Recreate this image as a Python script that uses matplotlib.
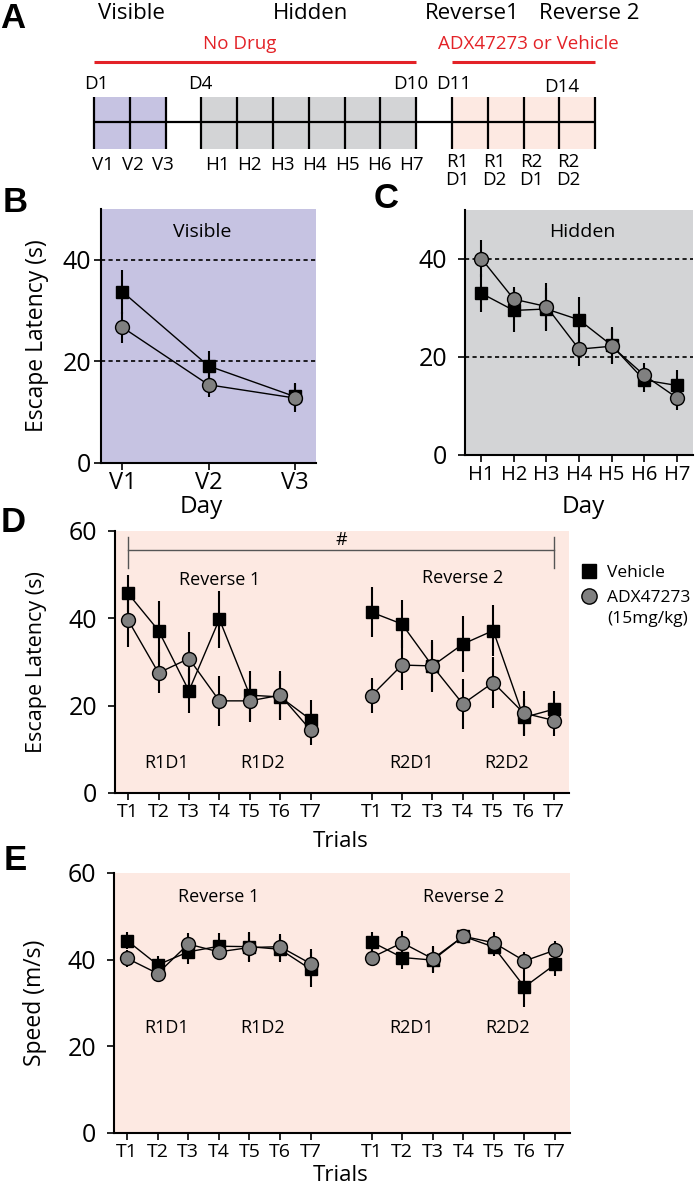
import numpy as np
import matplotlib
matplotlib.use("Agg")
import matplotlib.pyplot as plt
from matplotlib.lines import Line2D

plt.rcParams['font.family'] = ['Open Sans', 'DejaVu Sans']

# ---------------- data ----------------
# Panel A (timeline)
phase_titles = ["Visible", "Hidden", "Reverse1", "Reverse 2"]
drug_labels = ["No Drug", "ADX47273 or Vehicle"]
day_marks = ["D1", "D4", "D10", "D11", "D14"]
day_mark_days = [1, 4, 10, 11, 14]
visible_days = ["V1", "V2", "V3"]
hidden_days = ["H1", "H2", "H3", "H4", "H5", "H6", "H7"]
reverse_top = ["R1", "R1", "R2", "R2"]
reverse_bottom = ["D1", "D2", "D1", "D2"]
visible_span = (1, 3)
hidden_span = (4, 10)
reverse_span = (11, 15)

# Panel B (visible platform)
b_days = ["V1", "V2", "V3"]
b_vehicle = [33.7, 19.1, 13.1]
b_vehicle_err = [4.3, 3.0, 2.6]
b_adx = [26.7, 15.4, 12.8]
b_adx_err = [3.0, 2.4, 2.8]

# Panel C (hidden platform)
c_days = ["H1", "H2", "H3", "H4", "H5", "H6", "H7"]
c_vehicle = [33.0, 29.5, 29.8, 27.6, 22.4, 15.3, 14.2]
c_vehicle_err = [3.9, 4.4, 4.3, 4.6, 3.7, 2.4, 3.1]
c_adx = [40.1, 31.8, 30.3, 21.6, 22.2, 16.3, 11.7]
c_adx_err = [3.7, 2.5, 4.9, 3.4, 3.7, 2.5, 2.5]

# Panel D (escape latency, reversal)
trials = ["T1", "T2", "T3", "T4", "T5", "T6", "T7"]
d_r1_vehicle = [45.7, 37.2, 23.4, 39.8, 22.4, 22.0, 16.8]
d_r1_vehicle_err = [4.2, 6.8, 5.1, 6.5, 5.6, 5.2, 4.5]
d_r1_adx = [39.6, 27.5, 30.8, 21.1, 21.1, 22.4, 14.4]
d_r1_adx_err = [6.1, 4.7, 6.1, 5.7, 4.8, 5.6, 3.5]
d_r2_vehicle = [41.4, 38.7, 29.1, 34.1, 37.2, 17.3, 19.2]
d_r2_vehicle_err = [5.7, 5.5, 5.5, 6.4, 5.9, 4.3, 4.2]
d_r2_adx = [22.3, 29.3, 29.1, 20.4, 25.3, 18.3, 16.6]
d_r2_adx_err = [4.0, 5.7, 5.9, 5.8, 5.9, 5.1, 3.6]

# Panel E (swim speed, reversal)
e_r1_vehicle = [44.4, 38.8, 41.8, 43.1, 43.0, 42.4, 37.8]
e_r1_vehicle_err = [2.0, 2.0, 2.8, 3.1, 3.3, 3.0, 4.0]
e_r1_adx = [40.3, 36.8, 43.6, 41.8, 42.8, 43.0, 39.1]
e_r1_adx_err = [2.0, 2.0, 2.6, 1.9, 3.3, 3.0, 3.3]
e_r2_vehicle = [44.1, 40.5, 39.9, 45.4, 42.9, 33.7, 38.9]
e_r2_vehicle_err = [2.3, 2.6, 3.0, 1.5, 2.0, 4.7, 2.7]
e_r2_adx = [40.5, 43.9, 40.2, 45.4, 43.9, 39.7, 42.2]
e_r2_adx_err = [2.0, 2.7, 3.0, 1.5, 2.4, 2.1, 2.0]

session_labels = ["R1D1", "R1D2", "R2D1", "R2D2"]
series_names = ["Vehicle", "ADX47273"]
dose_note = "(15mg/kg)"

# ---------------- style ----------------
W, H = 700, 1186
PURPLE = "#c6c3e2"
GRAY = "#d3d4d6"
PINK = "#fde9e2"
RED = "#e32227"
CIRCLE = "#808080"

fig = plt.figure(figsize=(W / 100, H / 100), dpi=100)


def rect(l, t, r, b):
    return [l / W, 1 - b / H, (r - l) / W, (b - t) / H]


def fx(px):
    return px / W


def fy(py):
    return 1 - py / H


# ---------------- Panel A ----------------
PXD = 35.8  # pixels per day
axA = fig.add_axes([0, 1 - 195 / H, 1, 195 / H])
axA.set_xlim(1 - 94 / PXD, 1 + (W - 94) / PXD)
axA.set_ylim(195, 0)
axA.axis("off")

for (s, e), col in [(visible_span, PURPLE), (hidden_span, GRAY), (reverse_span, PINK)]:
    axA.fill_between([s, e], 97, 149, color=col, lw=0, zorder=1)
    axA.vlines(np.arange(s, e + 1), 97, 149, color="black", lw=1.6, zorder=3)
axA.hlines(122, visible_span[0], reverse_span[1], color="black", lw=1.6, zorder=2)

title_days = [2.04, 7.04, 11.56, 14.83]
for t, d in zip(phase_titles, title_days):
    axA.text(d, 19, t, ha="center", va="baseline", fontsize=16)

axA.text(5.07, 49, drug_labels[0], ha="center", va="baseline", fontsize=13.5, color=RED)
axA.text(13.12, 49, drug_labels[1], ha="center", va="baseline", fontsize=13.5, color=RED)
axA.hlines(62, visible_span[0], hidden_span[1], color=RED, lw=2.2)
axA.hlines(62, reverse_span[0], reverse_span[1], color=RED, lw=2.2)

mark_off = {"D1": 0.06, "D4": -0.04, "D10": -0.16, "D11": 0.04, "D14": 0.07}
for m, d in zip(day_marks, day_mark_days):
    axA.text(d + mark_off[m], 92 if m == "D14" else 89, m, ha="center", va="baseline", fontsize=13.5)

for lab, d in zip(visible_days, np.linspace(1.25, 2.93, len(visible_days))):
    axA.text(d, 170, lab, ha="center", va="baseline", fontsize=13.5)
for lab, d in zip(hidden_days, np.linspace(4.44, 9.88, len(hidden_days))):
    axA.text(d, 170, lab, ha="center", va="baseline", fontsize=13.5)
for t1, t2, d in zip(reverse_top, reverse_bottom, np.linspace(11.14, 14.24, len(reverse_top))):
    axA.text(d, 167, t1, ha="center", va="baseline", fontsize=13.5)
    axA.text(d, 185, t2, ha="center", va="baseline", fontsize=13.5)


# ---------------- helpers ----------------
def style_axes(ax, bg, ypad):
    ax.set_facecolor(bg)
    for sp in ["top", "right"]:
        ax.spines[sp].set_visible(False)
    for sp in ["left", "bottom"]:
        ax.spines[sp].set_linewidth(1.5)
    ax.tick_params(axis="both", direction="out", length=5, width=1.2)
    ax.tick_params(axis="y", labelsize=18, pad=ypad)


def plot_series(ax, x, veh, veh_err, adx, adx_err):
    ax.errorbar(x, veh, yerr=veh_err, fmt="-s", color="black", mfc="black",
                mec="black", ms=9, lw=1, elinewidth=1.5, capsize=0, zorder=3)
    ax.errorbar(x, adx, yerr=adx_err, fmt="-o", color="black", mfc=CIRCLE,
                mec="black", ms=10, mew=1, lw=1, elinewidth=1.5, capsize=0, zorder=4)


# ---------------- Panel B ----------------
axB = fig.add_axes(rect(101, 209, 316, 463))
style_axes(axB, PURPLE, 2)
xb = np.arange(1, len(b_days) + 1)
for yv in (20, 40):
    axB.axhline(yv, color="black", lw=1.2, ls=(0, (2.5, 2)), zorder=1)
plot_series(axB, xb, b_vehicle, b_vehicle_err, b_adx, b_adx_err)
axB.set_xlim(0.75, 3.25)
axB.set_ylim(0, 50)
axB.set_yticks([0, 20, 40])
axB.set_xticks(xb)
axB.set_xticklabels(b_days, fontsize=17)
axB.tick_params(axis="x", pad=1)
axB.text(0.47, 0.91, "Visible", transform=axB.transAxes, ha="center", va="center", fontsize=14)
axB.set_ylabel("Escape Latency (s)", fontsize=16.5, va="center")
axB.yaxis.set_label_coords(-0.298, 0.5)
axB.set_xlabel("Day", fontsize=17.5, va="center")
axB.xaxis.set_label_coords(0.465, -0.172)

# ---------------- Panel C ----------------
axC = fig.add_axes(rect(465, 210, 693, 455))
style_axes(axC, GRAY, 8)
xc = np.arange(1, len(c_days) + 1)
for yv in (20, 40):
    axC.axhline(yv, color="black", lw=1.2, ls=(0, (2.5, 2)), zorder=1)
plot_series(axC, xc, c_vehicle, c_vehicle_err, c_adx, c_adx_err)
axC.set_xlim(0.5, 7.5)
axC.set_ylim(0, 50)
axC.set_yticks([0, 20, 40])
axC.set_xticks(xc)
axC.set_xticklabels(c_days, fontsize=14.5)
axC.tick_params(axis="x", pad=2)
axC.text(0.513, 0.91, "Hidden", transform=axC.transAxes, ha="center", va="center", fontsize=14)
axC.set_xlabel("Day", fontsize=17.5, va="center")
axC.xaxis.set_label_coords(0.52, -0.212)

# ---------------- Panel D ----------------
x1 = np.arange(1, len(trials) + 1)
x2 = x1 + len(trials) + 1
axD = fig.add_axes(rect(115, 531, 569, 793))
style_axes(axD, PINK, 8)
plot_series(axD, x1, d_r1_vehicle, d_r1_vehicle_err, d_r1_adx, d_r1_adx_err)
plot_series(axD, x2, d_r2_vehicle, d_r2_vehicle_err, d_r2_adx, d_r2_adx_err)
axD.set_xlim(0.57, 15.49)
axD.set_ylim(0, 60)
axD.set_yticks([0, 20, 40, 60])
axD.set_xticks(np.concatenate([x1, x2]))
axD.set_xticklabels(trials + trials, fontsize=14)
axD.tick_params(axis="x", pad=2)
# significance bracket
axD.plot([x1[0], x2[-1]], [55.7, 55.7], color="#555555", lw=1, clip_on=False)
axD.plot([x1[0], x1[0]], [51.6, 58.6], color="#555555", lw=1, clip_on=False)
axD.plot([x2[-1], x2[-1]], [51.6, 58.6], color="#555555", lw=1, clip_on=False)
axD.text((x1[0] + x2[-1]) / 2, 55.9, "#", ha="center", va="bottom", fontsize=13)
axD.text(4, 48.8, "Reverse 1", ha="center", va="center", fontsize=13)
axD.text(12, 49.3, "Reverse 2", ha="center", va="center", fontsize=13)
for lab, xp in zip(session_labels, [2.28, 5.43, 10.3, 13.45]):
    axD.text(xp, 6.9, lab, ha="center", va="center", fontsize=13)
axD.set_ylabel("Escape Latency (s)", fontsize=15.5, va="center")
axD.yaxis.set_label_coords(-0.172, 0.5)
axD.set_xlabel("Trials", fontsize=16, va="center")
axD.xaxis.set_label_coords(0.496, -0.185)

handles = [
    Line2D([], [], ls="none", marker="s", mfc="black", mec="black", ms=10),
    Line2D([], [], ls="none", marker="o", mfc=CIRCLE, mec="black", ms=11),
]
fig.legend(handles, series_names, loc="upper left", bbox_to_anchor=(fx(568), fy(553)),
           frameon=False, fontsize=12.5, handlelength=1.0, handletextpad=0.55,
           labelspacing=0.5, borderpad=0.2)
fig.text(fx(607), fy(619), dose_note, ha="left", va="center", fontsize=12.5)

# ---------------- Panel E ----------------
axE = fig.add_axes(rect(114, 873, 570, 1133))
style_axes(axE, PINK, 8)
plot_series(axE, x1, e_r1_vehicle, e_r1_vehicle_err, e_r1_adx, e_r1_adx_err)
plot_series(axE, x2, e_r2_vehicle, e_r2_vehicle_err, e_r2_adx, e_r2_adx_err)
axE.set_xlim(0.57, 15.49)
axE.set_ylim(0, 60)
axE.set_yticks([0, 20, 40, 60])
axE.set_xticks(np.concatenate([x1, x2]))
axE.set_xticklabels(trials + trials, fontsize=14)
axE.tick_params(axis="x", pad=2)
axE.text(4, 54.4, "Reverse 1", ha="center", va="center", fontsize=13)
axE.text(12, 54.4, "Reverse 2", ha="center", va="center", fontsize=13)
for lab, xp in zip(session_labels, [2.28, 5.43, 10.3, 13.45]):
    axE.text(xp, 24.2, lab, ha="center", va="center", fontsize=13)
axE.set_ylabel("Speed (m/s)", fontsize=16.5, va="center")
axE.yaxis.set_label_coords(-0.173, 0.5)
axE.set_xlabel("Trials", fontsize=16, va="center")
axE.xaxis.set_label_coords(0.496, -0.165)

# ---------------- panel letters ----------------
for letter, (px, py) in zip("ABCDE", [(13, 18), (15, 203), (386, 198), (13, 522), (15, 860)]):
    fig.text(fx(px), fy(py), letter, ha="center", va="center", fontsize=25,
             fontweight="bold", family=["Liberation Sans", "DejaVu Sans"])

fig.savefig("out.png", dpi=100)
